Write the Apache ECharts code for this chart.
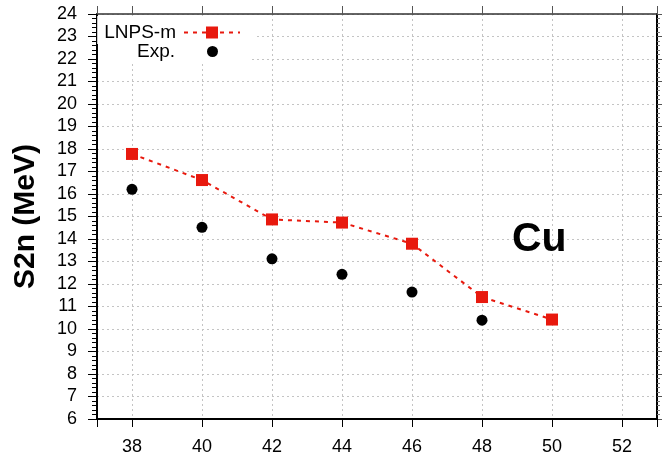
<!DOCTYPE html>
<html>
<head>
<meta charset="utf-8">
<script src="https://cdn.jsdelivr.net/npm/echarts@6/dist/echarts.min.js"></script>
<style>
html,body{margin:0;padding:0;background:#fff;}
#c{width:662px;height:456px;}
</style>
</head>
<body>
<div id="c"></div>
<script>
const neutronNumbers = [38, 40, 42, 44, 46, 48, 50];
const lnpsValues = [17.78, 16.62, 14.87, 14.73, 13.79, 11.42, 10.42];
const expNumbers = [38, 40, 42, 44, 46, 48];
const expValues = [16.21, 14.52, 13.12, 12.43, 11.64, 10.39];
const seriesNames = ['LNPS-m', 'Exp.'];
const yAxisTitle = 'S2n (MeV)';
const elementLabel = 'Cu';

const FONT = 'Liberation Sans, Arial, sans-serif';
const chart = echarts.init(document.getElementById('c'), null, {renderer: 'canvas'});

const gridLine = {show: true, lineStyle: {color: '#c4c4c4', width: 1, type: [2, 3]}};

chart.setOption({
  animation: false,
  backgroundColor: '#fff',
  grid: {left: 97, right: 5, top: 14, bottom: 36},
  title: {
    text: elementLabel, left: 507, top: 214,
    textStyle: {fontFamily: FONT, fontSize: 41, fontWeight: 'bold', color: '#000'}
  },
  legend: [{
    orient: 'vertical', right: 408, top: 16, align: 'right',
    itemWidth: 56, itemHeight: 15, itemGap: 0,
    backgroundColor: '#fff', padding: [7, 13, 2, 7],
    textStyle: {fontFamily: FONT, fontSize: 19, color: '#000', padding: [0, 3, 0, 0]},
    data: [seriesNames[0]]
  }, {
    orient: 'vertical', right: 412, top: 40, align: 'right',
    itemWidth: 11, itemHeight: 11, itemGap: 0,
    backgroundColor: '#fff', padding: [2, 32, 3, 39],
    textStyle: {fontFamily: FONT, fontSize: 19, color: '#000', padding: [0, 27, 0, 0]},
    data: [seriesNames[1]]
  }],
  xAxis: [{
    type: 'value', min: 37, max: 53, splitNumber: 8, position: 'bottom',
    axisLine: {show: true, lineStyle: {color: '#000', width: 2}},
    axisTick: {show: true, inside: false, length: 8, lineStyle: {color: '#000', width: 1}},
    axisLabel: {margin: 19, fontFamily: FONT, fontSize: 18, color: '#000',
      formatter: v => (v % 2 === 0 ? String(v) : '')},
    splitLine: gridLine
  }, {
    type: 'value', min: 37, max: 53, splitNumber: 8, position: 'top',
    axisLine: {show: true, onZero: false, lineStyle: {color: '#333', width: 1.5}},
    axisTick: {show: true, inside: false, length: 8, lineStyle: {color: '#555', width: 1}},
    axisLabel: {show: false}, splitLine: {show: false}
  }],
  yAxis: [{
    type: 'value', min: 6, max: 24, interval: 1, position: 'left',
    name: yAxisTitle, nameLocation: 'middle', nameRotate: 90, nameGap: 56,
    nameTextStyle: {fontFamily: FONT, fontSize: 30, fontWeight: 'bold', color: '#000'},
    axisLine: {show: true, lineStyle: {color: '#000', width: 2}},
    axisTick: {show: true, inside: false, length: 9, lineStyle: {color: '#000', width: 1}},
    minorTick: {show: true, splitNumber: 5, length: 5, lineStyle: {color: '#000', width: 1}},
    axisLabel: {margin: 20, fontFamily: FONT, fontSize: 18, color: '#000'},
    splitLine: gridLine
  }, {
    type: 'value', min: 6, max: 24, interval: 1, position: 'right',
    axisLine: {show: true, onZero: false, lineStyle: {color: '#000', width: 2}},
    axisTick: {show: true, inside: false, length: 5, lineStyle: {color: '#555', width: 1}},
    minorTick: {show: true, splitNumber: 5, length: 3, lineStyle: {color: '#777', width: 1}},
    axisLabel: {show: false}, splitLine: {show: false}
  }],
  series: [{
    name: seriesNames[0], type: 'line', xAxisIndex: 0, yAxisIndex: 0,
    data: neutronNumbers.map((x, i) => [x, lnpsValues[i]]),
    symbol: 'rect', symbolSize: 12,
    itemStyle: {color: '#e8190e', opacity: 1},
    lineStyle: {color: '#e8190e', width: 2, type: [4, 5]},
    z: 3
  }, {
    name: seriesNames[1], type: 'scatter', xAxisIndex: 0, yAxisIndex: 0,
    data: expNumbers.map((x, i) => [x, expValues[i]]),
    symbol: 'circle', symbolSize: 11,
    itemStyle: {color: '#000', opacity: 1},
    z: 4
  }]
});
</script>
</body>
</html>
